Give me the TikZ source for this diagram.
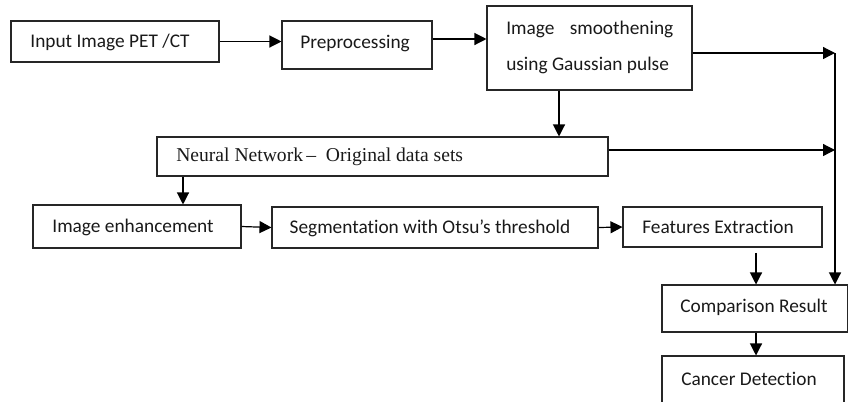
\documentclass[tikz,border=0pt]{standalone}
\usepackage{fontspec}
\setmainfont{Carlito}[Ligatures={NoCommon}]
\newfontfamily\timesf{Liberation Serif}
\usetikzlibrary{arrows.meta}
\begin{document}
\begin{tikzpicture}[x=0.75pt,y=-0.75pt,
  box/.style={draw=black!85,line width=0.8pt,inner sep=0pt},
  lbl/.style={font=\fontsize{14.5}{17}\selectfont,text=black!90,inner sep=0pt},
  arr/.style={line width=0.9pt,-{Triangle[length=9pt,width=9pt]}},
  ln/.style={line width=0.9pt}]
\clip (0,0) rectangle (848,401);
\useasboundingbox (0,0) rectangle (848,401);
% boxes
\node[box,minimum width=156pt,minimum height=30.75pt] (inp) at (115,41.5) {};
\node[box,minimum width=112.5pt,minimum height=36pt] (pre) at (357,45) {};
\node[box,minimum width=153.75pt,minimum height=63pt] (smo) at (589.5,48) {};
\node[box,minimum width=338.25pt,minimum height=29.25pt] (nn) at (382.5,156.5) {};
\node[box,minimum width=156pt,minimum height=32.25pt] (enh) at (137,226.5) {};
\node[box,minimum width=244.5pt,minimum height=30.75pt] (seg) at (435,227.5) {};
\node[box,minimum width=149.25pt,minimum height=30pt] (fea) at (722.5,227) {};
\node[box,minimum width=139.5pt,minimum height=35.25pt] (cmp) at (755,308.5) {};
\node[box,minimum width=136.5pt,minimum height=45pt] (can) at (753,386) {};
% texts
\node[lbl] (tinp) at (110,42) {Input Image PET /CT};
\node[lbl] (tpre) at (355,44) {Preprocessing};
\node[lbl,anchor=west] (tsmo1) at (506,29) {\makebox[125.25pt][s]{Image\hfill smoothening}};
\node[lbl,anchor=west] (tsmo2) at (506,65) {using Gaussian pulse};
\node[lbl,anchor=west,font=\timesf\fontsize{14.7}{17}\selectfont] (tnn) at (176,157) {Neural Network\,–\ \ Original data sets};
\node[lbl] (tenh) at (133,227) {Image enhancement};
\node[lbl] (tseg) at (430,228) {Segmentation with Otsu’s threshold};
\node[lbl] (tfea) at (718,227) {Features Extraction};
\node[lbl] (tcmp) at (754,307) {Comparison Result};
\node[lbl,anchor=west] (tcan) at (681,379) {Cancer Detection};
% connectors
\coordinate (c1) at (835,53);
\coordinate (c2) at (835,150);
\draw[arr] (inp.east) -- (pre.west |- inp.east);
\draw[arr] (pre.east |- 0,39) -- (smo.west |- 0,39);
\draw[arr] (smo.east |- c1) -- (c1);
\draw[arr] (c1) -- (c1 |- cmp.north);
\draw[arr] (smo.south -| 559,0) -- (nn.north -| 559,0);
\draw[arr] (nn.east |- c2) -- (c2);
\draw[arr] (nn.south -| 183,0) -- (enh.north -| 183,0);
\draw[arr] (enh.east) -- (seg.west);
\draw[arr] (seg.east) -- (fea.west);
\draw[arr,shorten <=4pt] (fea.south -| 756,0) -- (cmp.north -| 756,0);
\draw[arr] (cmp.south -| 756,0) -- (can.north -| 756,0);
\end{tikzpicture}
\end{document}
